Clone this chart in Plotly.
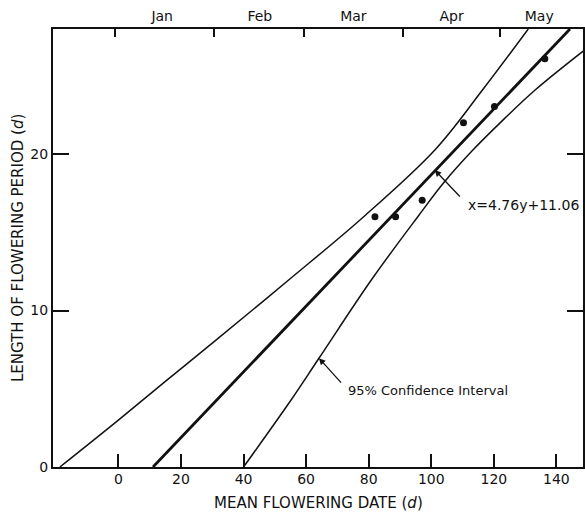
import plotly.graph_objects as go

# Observations (mean flowering date, length of flowering period)
obs_date = [82.0, 88.6, 97.1, 110.3, 120.2, 136.3]
obs_len = [16.0, 16.0, 17.05, 22.0, 23.05, 26.1]

# Regression line x = 4.76 y + 11.06 (end points)
reg_y = [0, 28]
reg_x = [11.06, 144.34]

# 95% confidence curves
upper_x = [-18.7, 0.0, 15.8, 30.5, 54.7, 78.4, 101.3, 116.0, 131.0]
upper_y = [0.0, 3.0, 5.6, 8.0, 12.0, 16.0, 20.3, 24.0, 28.0]
lower_x = [40.0, 54.8, 64.1, 81.0, 95.7, 104.1, 113.3, 122.0, 133.2, 149.6]
lower_y = [0.0, 4.17, 6.95, 12.0, 16.0, 18.2, 20.26, 22.0, 24.1, 26.75]

# Axes
x_ticks = [0, 20, 40, 60, 80, 100, 120, 140]
y_ticks = [0, 10, 20]
month_starts = [-1, 30.5, 59.4, 90.9, 122.1]
month_mid = [14.0, 45.2, 75.1, 106.5, 134.5]
month_names = ["Jan", "Feb", "Mar", "Apr", "May"]

FONT = "DejaVu Sans"
INK = "#111111"

fig = go.Figure()
fig.add_trace(go.Scatter(x=upper_x, y=upper_y, mode="lines",
                         line=dict(color=INK, width=1.5, shape="spline"),
                         showlegend=False, hoverinfo="skip"))
fig.add_trace(go.Scatter(x=lower_x, y=lower_y, mode="lines",
                         line=dict(color=INK, width=1.5, shape="spline"),
                         showlegend=False, hoverinfo="skip"))
fig.add_trace(go.Scatter(x=reg_x, y=reg_y, mode="lines",
                         line=dict(color=INK, width=2.8),
                         showlegend=False, hoverinfo="skip"))
fig.add_trace(go.Scatter(x=obs_date, y=obs_len, mode="markers",
                         marker=dict(color=INK, size=7),
                         showlegend=False))
# invisible trace to anchor the top (month) axis
fig.add_trace(go.Scatter(x=[month_mid[0]], y=[0], xaxis="x2", mode="markers",
                         marker=dict(opacity=0), showlegend=False, hoverinfo="skip"))

xr = [-20.9, 148.5]
fig.update_layout(
    width=585, height=513,
    margin=dict(l=53, r=0, t=29, b=46),
    plot_bgcolor="white", paper_bgcolor="white",
    font=dict(family=FONT, size=14, color=INK),
    xaxis=dict(range=xr, tickmode="array", tickvals=x_ticks,
               ticks="inside", ticklen=13, tickwidth=1.5, tickcolor=INK,
               showline=True, linewidth=2, linecolor=INK, mirror=False,
               showgrid=False, zeroline=False, ticklabelstandoff=-2,
               tickfont=dict(size=14)),
    xaxis2=dict(range=xr, overlaying="x", side="top", tickmode="array",
                tickvals=month_mid, ticktext=month_names, ticks="",
                minor=dict(tickmode="array", tickvals=month_starts, ticks="inside",
                           ticklen=8, tickwidth=1.5, tickcolor=INK, showgrid=False),
                showline=True, linewidth=2, linecolor=INK,
                showgrid=False, zeroline=False, tickfont=dict(size=14)),
    yaxis=dict(range=[0, 28], tickmode="array", tickvals=y_ticks,
               ticks="inside", ticklen=16, tickwidth=1.5, tickcolor=INK,
               showline=True, linewidth=2, linecolor=INK, mirror="ticks",
               showgrid=False, zeroline=False, tickfont=dict(size=14)),
)

fig.add_annotation(x=0.5, y=-0.082, xref="paper", yref="paper",
                   text="MEAN FLOWERING DATE (<i>d</i>)", showarrow=False,
                   font=dict(size=15, family=FONT), xanchor="center", yanchor="middle")
fig.add_annotation(x=-0.066, y=0.5, xref="paper", yref="paper",
                   text="LENGTH OF FLOWERING PERIOD (<i>d</i>)", showarrow=False,
                   textangle=-90, font=dict(size=15, family=FONT),
                   xanchor="center", yanchor="middle")

# Equation label with leader
fig.add_annotation(x=111, y=16.74, xref="x", yref="y", text="x=4.76y+11.06",
                   showarrow=False, xanchor="left", yanchor="middle",
                   font=dict(size=14, family=FONT))
fig.add_annotation(x=101.1, y=18.98, ax=109.6, ay=17.2, xref="x", yref="y",
                   axref="x", ayref="y", text="", showarrow=True,
                   arrowhead=2, arrowsize=1, arrowwidth=1.3, arrowcolor=INK)

# Confidence interval label with leader
fig.add_annotation(x=72.8, y=4.92, xref="x", yref="y", text="95% Confidence Interval",
                   showarrow=False, xanchor="left", yanchor="middle",
                   font=dict(size=13, family=FONT))
fig.add_annotation(x=64.1, y=6.96, ax=71.6, ay=5.3, xref="x", yref="y",
                   axref="x", ayref="y", text="", showarrow=True,
                   arrowhead=2, arrowsize=1, arrowwidth=1.3, arrowcolor=INK)

fig.write_html("out.html")
